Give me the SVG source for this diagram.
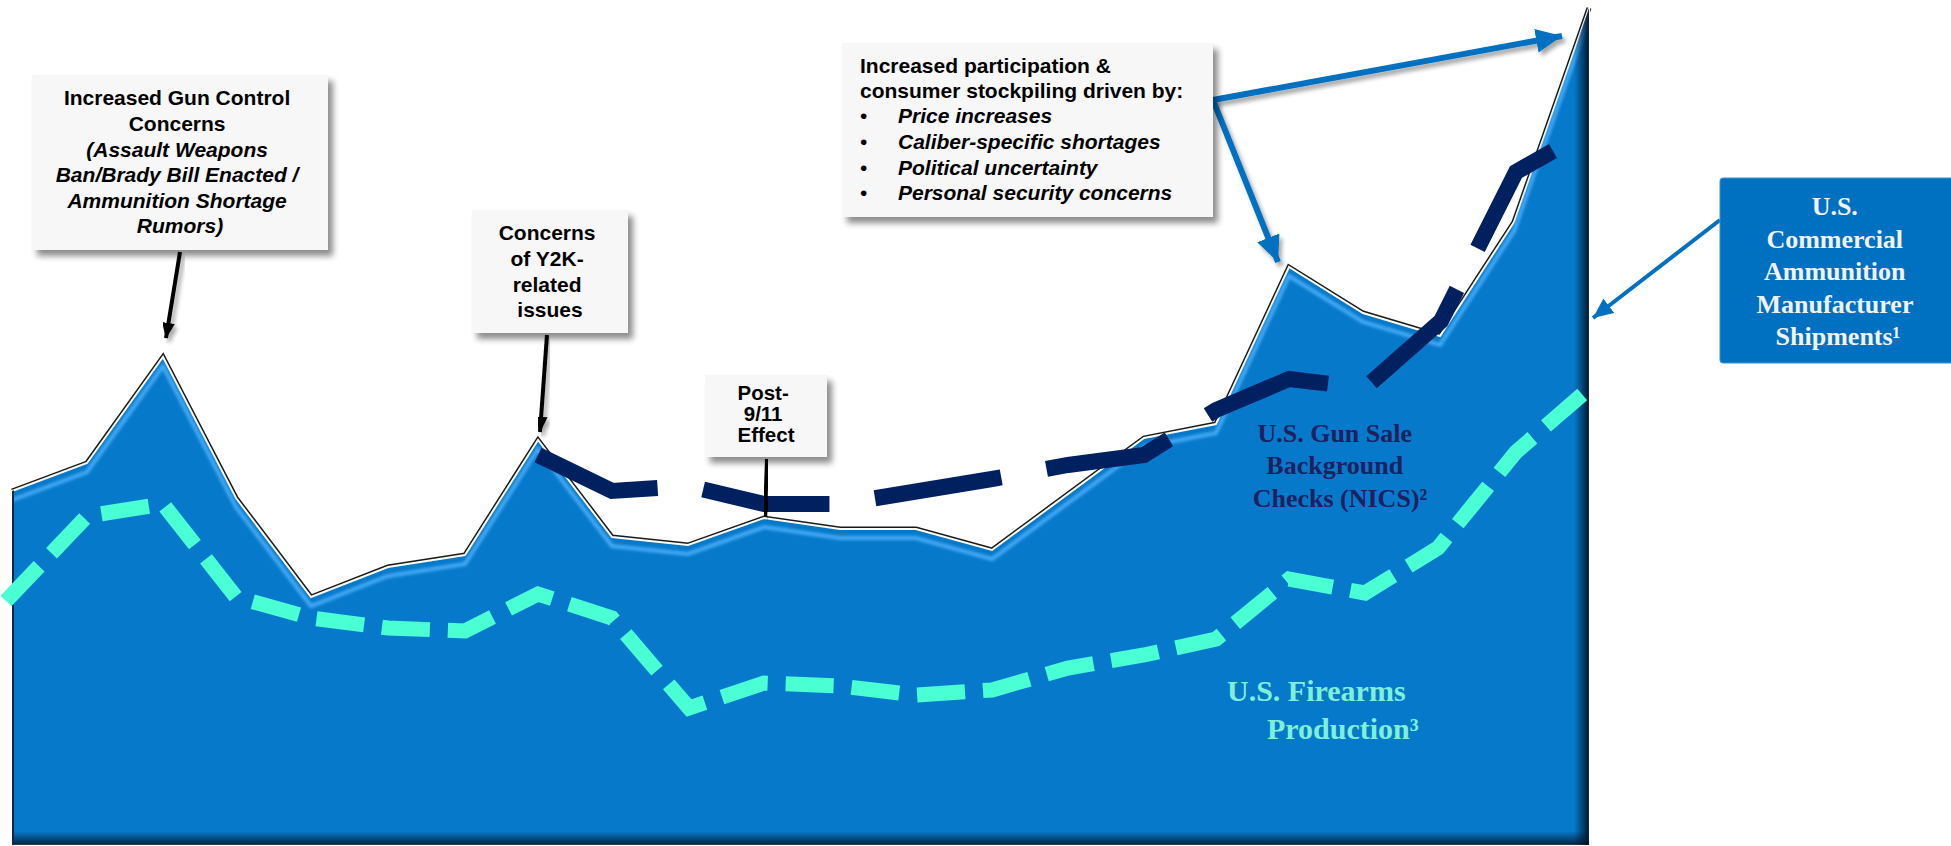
<svg xmlns="http://www.w3.org/2000/svg" width="1951" height="846" viewBox="0 0 1951 846">
<style>
.box{fill:#f7f7f7;filter:url(#sh);}
.lbl{font-family:"Liberation Sans",Arial,sans-serif;font-weight:bold;font-size:21px;fill:#000;}
.it{font-style:italic;}
.ser{font-family:"Liberation Serif","Times New Roman",serif;font-weight:bold;}
.blk{stroke:#000;stroke-width:4;fill:none;}
.blu{stroke:#0070c0;stroke-width:6;fill:none;}
</style>
<defs>
<filter id="sh" x="-20%" y="-20%" width="150%" height="150%">
<feGaussianBlur in="SourceAlpha" stdDeviation="3"/>
<feOffset dx="5" dy="6" result="o"/>
<feComponentTransfer><feFuncA type="linear" slope="0.45"/></feComponentTransfer>
<feMerge><feMergeNode/><feMergeNode in="SourceGraphic"/></feMerge>
</filter>
<filter id="sh2" x="-20%" y="-20%" width="150%" height="150%">
<feGaussianBlur in="SourceAlpha" stdDeviation="2"/>
<feOffset dx="3" dy="4" result="o"/>
<feComponentTransfer><feFuncA type="linear" slope="0.35"/></feComponentTransfer>
<feMerge><feMergeNode/><feMergeNode in="SourceGraphic"/></feMerge>
</filter>
<filter id="bl"><feGaussianBlur stdDeviation="1.6"/></filter>
<marker id="ahB" markerUnits="userSpaceOnUse" markerWidth="16" markerHeight="20" refX="19" refY="8" orient="auto" viewBox="0 0 20 16">
<path d="M0,0 L20,8 L0,16 Z" fill="#000"/>
</marker>
<marker id="ahU" markerUnits="userSpaceOnUse" markerWidth="26" markerHeight="24" refX="26" refY="12" orient="auto" viewBox="0 0 26 24">
<path d="M0,0 L26,12 L0,24 Z" fill="#0070c0"/>
</marker>
<marker id="ahS" markerUnits="userSpaceOnUse" markerWidth="20" markerHeight="18" refX="20" refY="9" orient="auto" viewBox="0 0 20 18">
<path d="M0,0 L20,9 L0,18 Z" fill="#0070c0"/>
</marker>
<clipPath id="ac">
<polygon points="12,491 87,463 163,357 236,498 311,597 388,567 465,555 538,440 612,537 688,545 764,518 840,529 916,529 992,550 1144,438 1216,424 1289,267 1363,313 1440,336 1514,222 1589,8 1589,845 12,845"/>
</clipPath>
<linearGradient id="gR" x1="0" y1="0" x2="1" y2="0">
<stop offset="0" stop-color="#001a33" stop-opacity="0"/>
<stop offset="1" stop-color="#001020" stop-opacity="1"/>
</linearGradient>
<linearGradient id="gB" x1="0" y1="0" x2="0" y2="1">
<stop offset="0" stop-color="#001a33" stop-opacity="0"/>
<stop offset="1" stop-color="#001020" stop-opacity="0.9"/>
</linearGradient>
</defs>
<rect width="1951" height="846" fill="#fff"/>

<g id="chart">
<polyline points="12,491 87,463 163,357 236,498 311,597 388,567 465,555 538,440 612,537 688,545 764,518 840,529 916,529 992,550 1144,438 1216,424 1289,267 1363,313 1440,336 1514,222 1589,8" fill="none" stroke="#1a1a1a" stroke-width="5" stroke-linejoin="miter"/>
<polygon points="12,491 87,463 163,357 236,498 311,597 388,567 465,555 538,440 612,537 688,545 764,518 840,529 916,529 992,550 1144,438 1216,424 1289,267 1363,313 1440,336 1514,222 1589,8 1589,845 12,845" fill="#0779ca" stroke="#ffffff" stroke-width="2"/>
<g clip-path="url(#ac)">
<polyline transform="translate(0,9)" points="12,491 87,463 163,357 236,498 311,597 388,567 465,555 538,440 612,537 688,545 764,518 840,529 916,529 992,550 1144,438 1216,424 1289,267 1363,313 1440,336 1514,222 1589,8" fill="none" stroke="#45aaf8" stroke-width="4" filter="url(#bl)"/>
<rect x="1574" y="0" width="16" height="846" fill="url(#gR)"/>
<rect x="0" y="831" width="1600" height="15" fill="url(#gB)"/>
<rect x="12" y="0" width="2" height="846" fill="#0a2a4a"/>
</g>
<path d="M6,601 L87,516 L163,504 L236,597 L311,618 L388,628 L465,631 L538,594 L612,618 L689,708 L764,683 L840,686 L916,695 L992,690 L1068,668 L1144,655 L1216,639 L1289,579 L1365,593 L1438,548 L1516,452 L1592,386" fill="none" stroke="#4affd4" stroke-width="15" stroke-dasharray="48 18"/>
<path d="M538,455 L612,491 L688,486 L764,504 L840,504 L992,479 L1068,465 L1144,455 L1216,410 L1289,379 L1365,388 L1441,321 L1516,172 L1567,143" fill="none" stroke="#002060" stroke-width="16" stroke-dasharray="128 46"/>
</g>

<g id="connectors">
<path class="blk" d="M180,252 L166,338" marker-end="url(#ahB)" filter="url(#sh2)"/>
<path class="blk" d="M547,335 L540,432" marker-end="url(#ahB)" filter="url(#sh2)"/>
<path class="blk" d="M767,459 L765,516" marker-end="url(#ahB)" filter="url(#sh2)"/>
<path class="blu" d="M1213,100 L1562,36" marker-end="url(#ahU)" filter="url(#sh2)"/>
<path class="blu" d="M1213,100 L1278,262" marker-end="url(#ahU)" filter="url(#sh2)"/>
<path d="M1720,220 L1593,318" stroke="#0070c0" stroke-width="4" fill="none" marker-end="url(#ahS)"/>
</g>

<g id="node-gun-control">
<rect class="box" x="32" y="75" width="296" height="175"/>
<text class="lbl" text-anchor="middle">
<tspan x="180" y="105">Increased Gun Control</tspan>
<tspan x="180" y="131">Concerns</tspan>
<tspan class="it" x="180" y="157">(Assault Weapons</tspan>
<tspan class="it" x="180" y="182">Ban/Brady Bill Enacted /</tspan>
<tspan class="it" x="180" y="208">Ammunition Shortage</tspan>
<tspan class="it" x="180" y="233">Rumors)</tspan>
</text>
</g>

<g id="node-y2k">
<rect class="box" x="472" y="210" width="156" height="123"/>
<text class="lbl" text-anchor="middle">
<tspan x="550" y="240">Concerns</tspan>
<tspan x="550" y="266">of Y2K-</tspan>
<tspan x="550" y="292">related</tspan>
<tspan x="550" y="317">issues</tspan>
</text>
</g>

<g id="node-911">
<rect class="box" x="705" y="375" width="122" height="82"/>
<text class="lbl" text-anchor="middle" style="font-size:20.5px">
<tspan x="766" y="400">Post-</tspan>
<tspan x="766" y="421">9/11</tspan>
<tspan x="766" y="442">Effect</tspan>
</text>
</g>

<g id="node-participation">
<rect class="box" x="842" y="43" width="371" height="174"/>
<text class="lbl">
<tspan x="860" y="73">Increased participation &amp;</tspan>
<tspan x="860" y="98">consumer stockpiling driven by:</tspan>
</text>
<text class="lbl" style="font-weight:normal">
<tspan x="860" y="123">•</tspan>
<tspan x="860" y="149">•</tspan>
<tspan x="860" y="175">•</tspan>
<tspan x="860" y="200">•</tspan>
</text>
<text class="lbl it">
<tspan x="898" y="123">Price increases</tspan>
<tspan x="898" y="149">Caliber-specific shortages</tspan>
<tspan x="898" y="175">Political uncertainty</tspan>
<tspan x="898" y="200">Personal security concerns</tspan>
</text>
</g>

<g id="node-shipments">
<rect x="1720" y="178" width="240" height="185" rx="3" fill="#0070c0" stroke="#3a90d8" stroke-width="1"/>
<text class="ser" text-anchor="middle" font-size="26" fill="#f2f2f2">
<tspan x="1838" y="215">U.S.</tspan>
<tspan x="1838" y="248">Commercial</tspan>
<tspan x="1838" y="280">Ammunition</tspan>
<tspan x="1838" y="313">Manufacturer</tspan>
<tspan x="1838" y="345">Shipments¹</tspan>
</text>
</g>

<g id="node-nics">
<text class="ser" text-anchor="middle" font-size="26" fill="#1f2060">
<tspan x="1338" y="442">U.S. Gun Sale</tspan>
<tspan x="1338" y="474">Background</tspan>
<tspan x="1340" y="507">Checks (NICS)²</tspan>
</text>
</g>

<g id="node-firearms">
<text class="ser" font-size="30" fill="#7ff0d8">
<tspan x="1227" y="701">U.S. Firearms</tspan>
<tspan x="1267" y="739">Production³</tspan>
</text>
</g>
</svg>
